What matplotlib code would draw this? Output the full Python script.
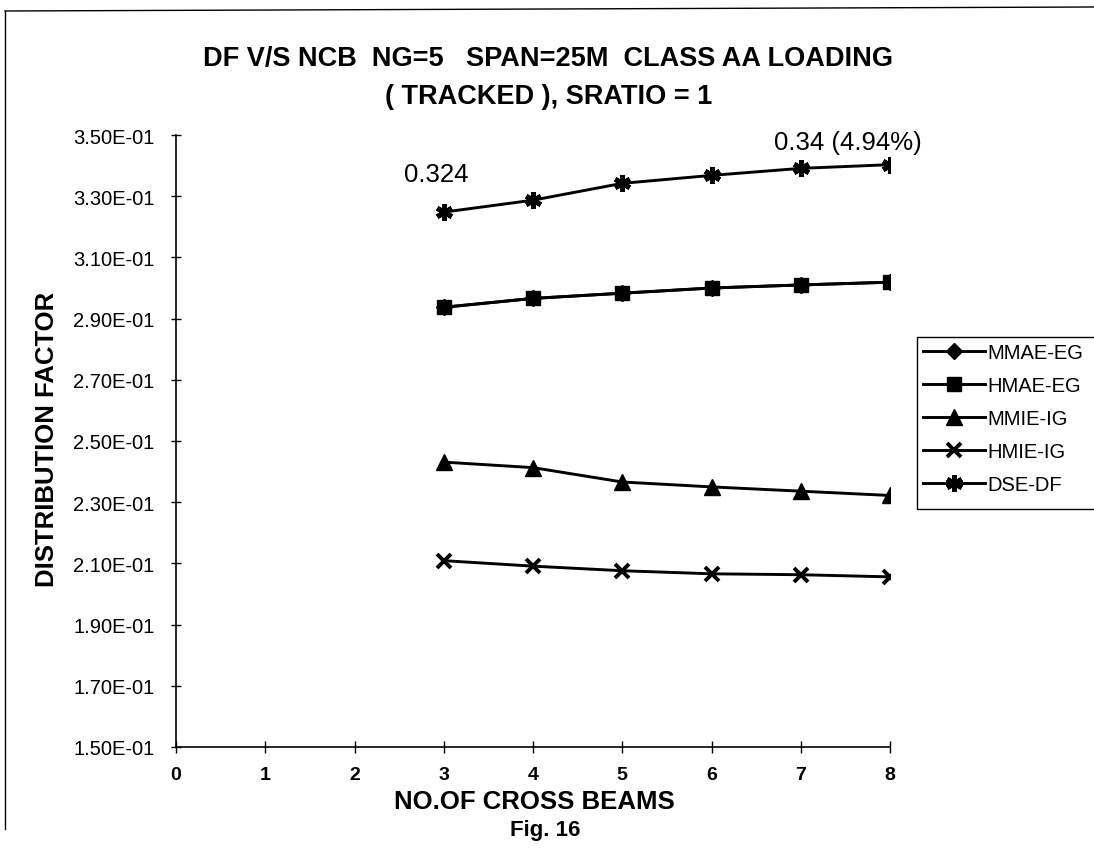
import matplotlib
matplotlib.use('Agg')
import matplotlib.pyplot as plt
from matplotlib.lines import Line2D
from matplotlib.patches import Rectangle
from matplotlib.ticker import FormatStrFormatter

plt.rcParams['font.family'] = ['Liberation Sans', 'DejaVu Sans']

# number of cross beams
ncb = [3, 4, 5, 6, 7, 8]

# distribution factors
mmae_eg = [0.2937, 0.2966, 0.2983, 0.3000, 0.3010, 0.3019]
hmae_eg = [0.2937, 0.2966, 0.2983, 0.3000, 0.3010, 0.3019]
mmie_ig = [0.2431, 0.2413, 0.2366, 0.2350, 0.2336, 0.2322]
hmie_ig = [0.2109, 0.2091, 0.2076, 0.2066, 0.2063, 0.2056]
dse_df = [0.3248, 0.3287, 0.3342, 0.3368, 0.3391, 0.3403]

yticks = [0.15, 0.17, 0.19, 0.21, 0.23, 0.25, 0.27, 0.29, 0.31, 0.33, 0.35]
xticks = [0, 1, 2, 3, 4, 5, 6, 7, 8]

W, H = 1094, 853
fig = plt.figure(figsize=(W / 100, H / 100), dpi=100)
ax = fig.add_axes([176 / W, 1 - 748 / H, (890 - 176) / W, (748 - 136) / H])

lw = 2.1
ax.plot(ncb, mmae_eg, c='k', lw=lw, marker='D', ms=8, label='MMAE-EG')
ax.plot(ncb, hmae_eg, c='k', lw=lw, marker='s', ms=9.5, label='HMAE-EG')
ax.plot(ncb, mmie_ig, c='k', lw=lw, marker='^', ms=11, label='MMIE-IG')
ax.plot(ncb, hmie_ig, c='k', lw=lw, marker='x', ms=10, mew=2.8, label='HMIE-IG')
ax.plot(ncb, dse_df, c='k', lw=lw, marker=(6, 2, 0), ms=12, mew=3.5, label='DSE-DF')

ax.set_xlim(0, 8)
ax.set_ylim(0.15, 0.35)
ax.set_xticks(xticks)
ax.set_yticks(yticks)
ax.yaxis.set_major_formatter(FormatStrFormatter('%.2E'))
for s in ['top', 'right']:
    ax.spines[s].set_visible(False)
for s in ['left', 'bottom']:
    ax.spines[s].set_linewidth(1.2)
ax.tick_params(axis='y', direction='inout', length=7, width=1, labelsize=14.5, pad=12)
ax.tick_params(axis='x', direction='inout', length=9, width=1, labelsize=14, pad=9)
for t in ax.get_xticklabels():
    t.set_fontweight('bold')

ax.text(2.92, 0.3373, '0.324', fontsize=18.5, ha='center', va='center', clip_on=False)
ax.text(7.53, 0.3477, '0.34 (4.94%)', fontsize=18.5, ha='center', va='center', clip_on=False)

fig.text(548 / W, 1 - 59 / H, 'DF V/S NCB  NG=5   SPAN=25M  CLASS AA LOADING',
         fontsize=19.5, fontweight='bold', ha='center', va='center')
fig.text(549 / W, 1 - 97 / H, '( TRACKED ), SRATIO = 1',
         fontsize=19.5, fontweight='bold', ha='center', va='center')
fig.text(47 / W, 1 - 439 / H, 'DISTRIBUTION FACTOR', rotation=90,
         fontsize=18.5, fontweight='bold', ha='center', va='center')
fig.text(534 / W, 1 - 802 / H, 'NO.OF CROSS BEAMS',
         fontsize=18.5, fontweight='bold', ha='center', va='center')
fig.text(545 / W, 1 - 831 / H, 'Fig. 16',
         fontsize=16, fontweight='bold', ha='center', va='center')

leg = ax.legend(loc='upper left', bbox_to_anchor=(917 / W, 1 - 338 / H),
                bbox_transform=fig.transFigure, fontsize=14.5, frameon=False,
                handlelength=3.1, handletextpad=0.1,
                labelspacing=0.7, borderpad=0.3, borderaxespad=0)

# legend box runs off the right edge of the page
fig.add_artist(Rectangle((917 / W, 1 - 510 / H), 200 / W, 172 / H,
                         transform=fig.transFigure, fill=False, ec='k', lw=1))

# scanned page border
fig.add_artist(Line2D([5 / W, 5 / W], [1 - 12 / H, 1 - 830 / H], color='k', lw=1))
fig.add_artist(Line2D([5 / W, 1.0], [1 - 12 / H, 1 - 8 / H], color='k', lw=1))

fig.savefig('out.png', dpi=100)
